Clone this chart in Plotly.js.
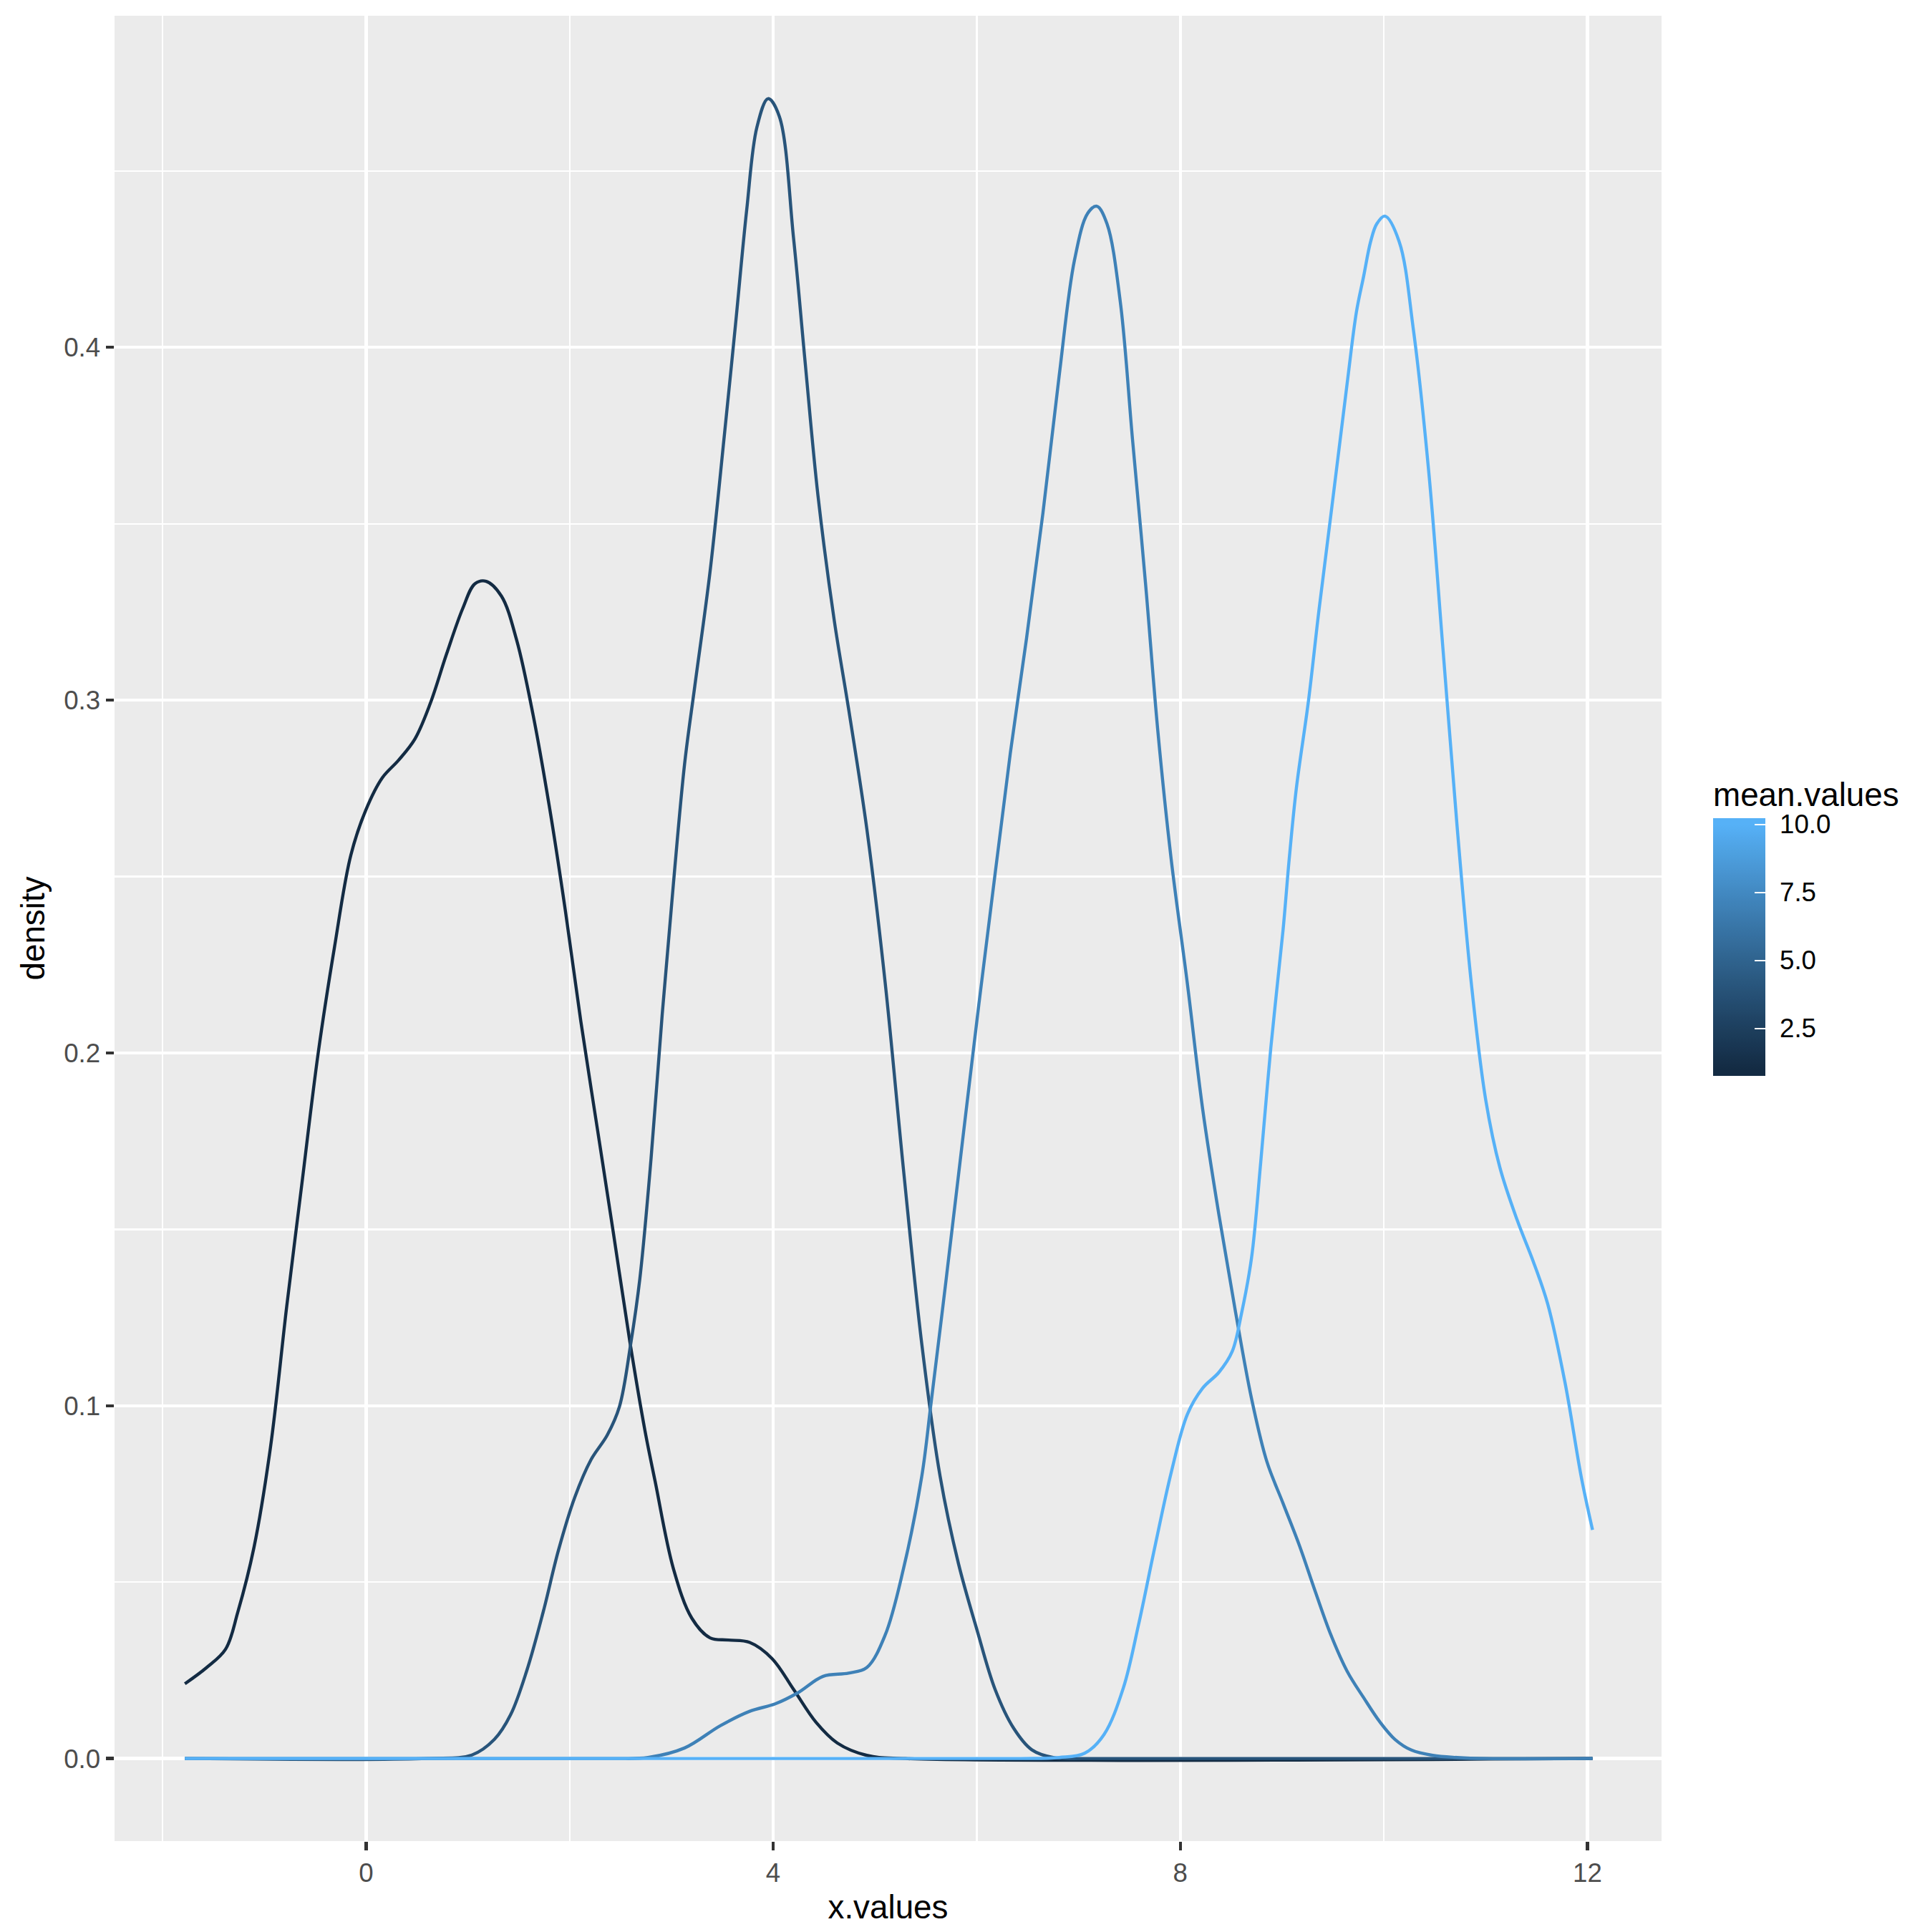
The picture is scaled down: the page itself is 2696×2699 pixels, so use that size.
<!DOCTYPE html>
<html>
<head>
<meta charset="utf-8">
<script src="https://cdn.plot.ly/plotly-3.0.1.min.js"></script>
<style>html,body{margin:0;padding:0;background:#fff;}#chart{width:2696px;height:2699px;}</style>
</head>
<body>
<div id="chart"></div>
<script>
// ---- Data ----
const meanValues = [1, 4, 7, 10];

const x1 = [-1.78, -1.57, -1.38, -1.26, -1.10, -0.94, -0.78, -0.63, -0.47, -0.31, -0.15, 0.00, 0.16, 0.32, 0.48, 0.63, 0.79, 0.95, 1.07, 1.18, 1.33, 1.48, 1.64, 1.80, 1.96, 2.11, 2.27, 2.43, 2.59, 2.74, 2.84, 3.02, 3.20, 3.38, 3.56, 3.77, 3.99, 4.20, 4.42, 4.63, 4.92, 5.30, 12.05];
const y1 = [0.0212, 0.0257, 0.031, 0.0415, 0.060, 0.088, 0.128, 0.163, 0.200, 0.230, 0.256, 0.269, 0.278, 0.283, 0.289, 0.299, 0.313, 0.326, 0.333, 0.3337, 0.3295, 0.317, 0.296, 0.270, 0.240, 0.209, 0.179, 0.149, 0.1185, 0.093, 0.0786, 0.0538, 0.0398, 0.0342, 0.0336, 0.0329, 0.0283, 0.0196, 0.0103, 0.0044, 0.0009, 0, 0];

const x2 = [-1.78, 0.60, 1.04, 1.26, 1.42, 1.58, 1.74, 1.89, 2.05, 2.21, 2.37, 2.49, 2.60, 2.69, 2.80, 2.91, 3.02, 3.13, 3.23, 3.38, 3.52, 3.63, 3.74, 3.84, 3.95, 4.06, 4.20, 4.31, 4.44, 4.60, 4.74, 4.92, 5.10, 5.28, 5.46, 5.64, 5.82, 6.00, 6.18, 6.36, 6.54, 6.75, 7.10, 12.05];
const y2 = [0, 0, 0.001, 0.0054, 0.0124, 0.025, 0.0415, 0.059, 0.074, 0.0847, 0.0917, 0.0998, 0.1175, 0.136, 0.170, 0.211, 0.248, 0.282, 0.304, 0.3365, 0.375, 0.4065, 0.439, 0.4624, 0.4705, 0.4655, 0.431, 0.397, 0.358, 0.3226, 0.2977, 0.2635, 0.220, 0.167, 0.1175, 0.080, 0.0553, 0.0367, 0.0196, 0.0087, 0.0025, 0.0003, 0, 0];

const x3 = [-1.78, 2.40, 2.77, 3.13, 3.48, 3.77, 4.02, 4.24, 4.49, 4.74, 4.92, 5.10, 5.28, 5.46, 5.55, 5.70, 5.86, 6.02, 6.18, 6.33, 6.49, 6.65, 6.81, 6.96, 7.09, 7.18, 7.28, 7.41, 7.53, 7.66, 7.78, 7.91, 8.07, 8.22, 8.38, 8.54, 8.70, 8.85, 9.01, 9.17, 9.33, 9.48, 9.64, 9.80, 9.96, 10.11, 10.27, 10.48, 10.72, 11.00, 12.05];
const y3 = [0, 0, 0.0003, 0.003, 0.0093, 0.0134, 0.0155, 0.0186, 0.0233, 0.0242, 0.0258, 0.035, 0.0538, 0.080, 0.1005, 0.136, 0.175, 0.2136, 0.2507, 0.285, 0.3177, 0.353, 0.392, 0.4247, 0.438, 0.440, 0.435, 0.413, 0.374, 0.3325, 0.291, 0.255, 0.2195, 0.184, 0.154, 0.127, 0.102, 0.0842, 0.0723, 0.0604, 0.047, 0.035, 0.0247, 0.0173, 0.0104, 0.0054, 0.0024, 0.0009, 0.0003, 0, 0];

const x4 = [-1.78, 6.40, 6.81, 7.06, 7.25, 7.44, 7.59, 7.75, 7.91, 8.07, 8.22, 8.38, 8.51, 8.60, 8.70, 8.79, 8.89, 9.01, 9.07, 9.14, 9.26, 9.36, 9.49, 9.64, 9.73, 9.80, 9.87, 9.93, 10.01, 10.15, 10.29, 10.44, 10.58, 10.72, 10.86, 11.00, 11.14, 11.31, 11.47, 11.61, 11.78, 11.94, 12.05];
const y4 = [0, 0, 0.0003, 0.0015, 0.0068, 0.020, 0.038, 0.060, 0.081, 0.0976, 0.105, 0.1095, 0.1154, 0.126, 0.142, 0.169, 0.2017, 0.235, 0.255, 0.275, 0.300, 0.325, 0.355, 0.390, 0.410, 0.420, 0.430, 0.435, 0.4372, 0.430, 0.405, 0.365, 0.3147, 0.264, 0.2195, 0.1868, 0.1675, 0.1526, 0.1407, 0.1288, 0.1065, 0.0797, 0.0648];

const xTickVals = [0, 4, 8, 12];
const xTickText = ['0', '4', '8', '12'];
const yTickVals = [0, 0.1, 0.2, 0.3, 0.4];
const yTickText = ['0.0', '0.1', '0.2', '0.3', '0.4'];
const cbTickVals = [2.5, 5, 7.5, 10];
const cbTickText = ['2.5', '5.0', '7.5', '10.0'];
const legendTitle = 'mean.values';

// ---- ggplot2 default continuous colour scale (Lab interpolation) ----
const LOW = '#132B43', HIGH = '#56B1F7';
function hexToRgb(h){h=h.replace('#','');return [0,2,4].map(i=>parseInt(h.substr(i,2),16));}
function toLin(c){c/=255;return c<=0.04045?c/12.92:Math.pow((c+0.055)/1.055,2.4);}
function fromLin(c){let v=c<=0.0031308?12.92*c:1.055*Math.pow(c,1/2.4)-0.055;return Math.max(0,Math.min(255,Math.round(v*255)));}
const WN=[0.95047,1,1.08883];
function rgbToLab(rgb){const [r,g,b]=rgb.map(toLin);
  const X=(0.4124564*r+0.3575761*g+0.1804375*b)/WN[0];
  const Y=(0.2126729*r+0.7151522*g+0.0721750*b)/WN[1];
  const Z=(0.0193339*r+0.1191920*g+0.9503041*b)/WN[2];
  const f=t=>t>216/24389?Math.cbrt(t):(24389/27*t+16)/116;
  const fx=f(X),fy=f(Y),fz=f(Z);
  return [116*fy-16,500*(fx-fy),200*(fy-fz)];}
function labToHex(lab){const [L,a,b]=lab;const fy=(L+16)/116,fx=fy+a/500,fz=fy-b/200;
  const inv=f=>{const f3=f*f*f;return f3>216/24389?f3:(116*f-16)/(24389/27);};
  const X=inv(fx)*WN[0],Y=inv(fy)*WN[1],Z=inv(fz)*WN[2];
  const r=3.2404542*X-1.5371385*Y-0.4985314*Z;
  const g=-0.9692660*X+1.8760108*Y+0.0415560*Z;
  const bb=0.0556434*X-0.2040259*Y+1.0572252*Z;
  return '#'+[r,g,bb].map(fromLin).map(v=>v.toString(16).padStart(2,'0')).join('');}
const labLow=rgbToLab(hexToRgb(LOW)), labHigh=rgbToLab(hexToRgb(HIGH));
function colAt(t){t=Math.max(0,Math.min(1,t));return labToHex(labLow.map((v,i)=>v+(labHigh[i]-v)*t));}
const vMin=Math.min(...meanValues), vMax=Math.max(...meanValues);
const colorOf=v=>colAt((v-vMin)/(vMax-vMin));

// colour bar: ggplot maps limits to the centres of the first/last of 20 bins
const nbin=20, half=(vMax-vMin)/(nbin-1)*0.5;
const cMin=vMin-half, cMax=vMax+half;
const colorscale=[];
for(let i=0;i<=40;i++){const t=i/40;const v=cMin+t*(cMax-cMin);colorscale.push([t,colorOf(v)]);}

// ---- geometry (pixels) ----
const W=2696, H=2699;
const M={l:160, r:375, t:22, b:127};
const PW=W-M.l-M.r, PH=H-M.t-M.b;
const CB={left:2393, width:73, top:1142.7, len:360};
const px2paperX=px=>(px-M.l)/PW;
const px2paperY=py=>(H-M.b-py)/PH;
const cbPy=v=>CB.top+CB.len-(v-cMin)/(cMax-cMin)*CB.len;

const FONT='Liberation Sans, Arial, sans-serif';
const xs=[x1,x2,x3,x4], ys=[y1,y2,y3,y4];
const LW=4.4;
const traces=xs.map((x,i)=>({
  type:'scatter', mode:'lines', x:x, y:ys[i],
  line:{color:colorOf(meanValues[i]), width:LW, shape:'spline', smoothing:1},
  showlegend:false, hoverinfo:'skip'
}));
// invisible marker trace carrying the colour bar
traces.push({
  type:'scatter', mode:'markers',
  x:xs.map(x=>x[0]), y:ys.map(y=>y[0]),
  marker:{color:meanValues, cmin:cMin, cmax:cMax, colorscale:colorscale, showscale:true, opacity:0, size:1,
    colorbar:{
      tickmode:'array', tickvals:cbTickVals, ticktext:cbTickText, showticklabels:false,
      ticks:'inside', ticklen:CB.width/5, tickwidth:2.2, tickcolor:'#ffffff',
      thickness:CB.width, thicknessmode:'pixels', len:CB.len, lenmode:'pixels',
      xref:'container', x:CB.left/W, xanchor:'left', xpad:0,
      yref:'paper', y:px2paperY(CB.top), yanchor:'top', ypad:0,
      outlinewidth:0, borderwidth:0, bgcolor:'rgba(0,0,0,0)'
    }},
  showlegend:false, hoverinfo:'skip'
});

// left-edge white ticks (ggplot draws them on both edges)
const shapes=[];
cbTickVals.forEach(v=>{
  const yp=px2paperY(cbPy(v));
  shapes.push({type:'line', xref:'paper', yref:'paper', x0:px2paperX(CB.left), x1:px2paperX(CB.left+CB.width/5), y0:yp, y1:yp,
    line:{color:'#ffffff', width:2.2}, layer:'above'});
});

const annotations=[{
  text:legendTitle, xref:'paper', yref:'paper', x:px2paperX(CB.left-2), y:px2paperY(1111),
  xanchor:'left', yanchor:'middle', showarrow:false,
  font:{family:FONT, size:45.8, color:'#000000'}
}];
cbTickVals.forEach((v,i)=>{
  annotations.push({text:cbTickText[i], xref:'paper', yref:'paper', x:px2paperX(CB.left+CB.width+18), y:px2paperY(cbPy(v)),
    xanchor:'left', yanchor:'middle', showarrow:false, font:{family:FONT, size:36.7, color:'#000000'}});
});

const layout={
  width:W, height:H,
  margin:{l:M.l, r:M.r, t:M.t, b:M.b, pad:0},
  paper_bgcolor:'#ffffff', plot_bgcolor:'#EBEBEB',
  font:{family:FONT, color:'#000000'},
  showlegend:false,
  shapes:shapes,
  annotations:annotations,
  xaxis:{
    range:[-2.471, 12.728], tickmode:'array', tickvals:xTickVals, ticktext:xTickText,
    showgrid:true, gridcolor:'#ffffff', gridwidth:4.4, zeroline:false, showline:false,
    ticks:'outside', ticklen:11.5, tickwidth:4.4, tickcolor:'#333333',
    tickfont:{family:FONT, size:36.7, color:'#4D4D4D'},
    minor:{dtick:2, tick0:0, showgrid:true, gridcolor:'#ffffff', gridwidth:2.2, ticks:''},
    title:{text:'x.values', font:{family:FONT, size:45.8, color:'#000000'}, standoff:12},
    automargin:false, fixedrange:true
  },
  yaxis:{
    range:[-0.0234, 0.494], tickmode:'array', tickvals:yTickVals, ticktext:yTickText,
    showgrid:true, gridcolor:'#ffffff', gridwidth:4.4, zeroline:false, showline:false,
    ticks:'outside', ticklen:11.5, tickwidth:4.4, tickcolor:'#333333',
    tickfont:{family:FONT, size:36.7, color:'#4D4D4D'},
    minor:{dtick:0.05, tick0:0, showgrid:true, gridcolor:'#ffffff', gridwidth:2.2, ticks:''},
    title:{text:'density', font:{family:FONT, size:45.8, color:'#000000'}, standoff:12},
    automargin:false, fixedrange:true
  }
};
Plotly.newPlot('chart', traces, layout, {staticPlot:true, displayModeBar:false});
</script>
</body>
</html>
